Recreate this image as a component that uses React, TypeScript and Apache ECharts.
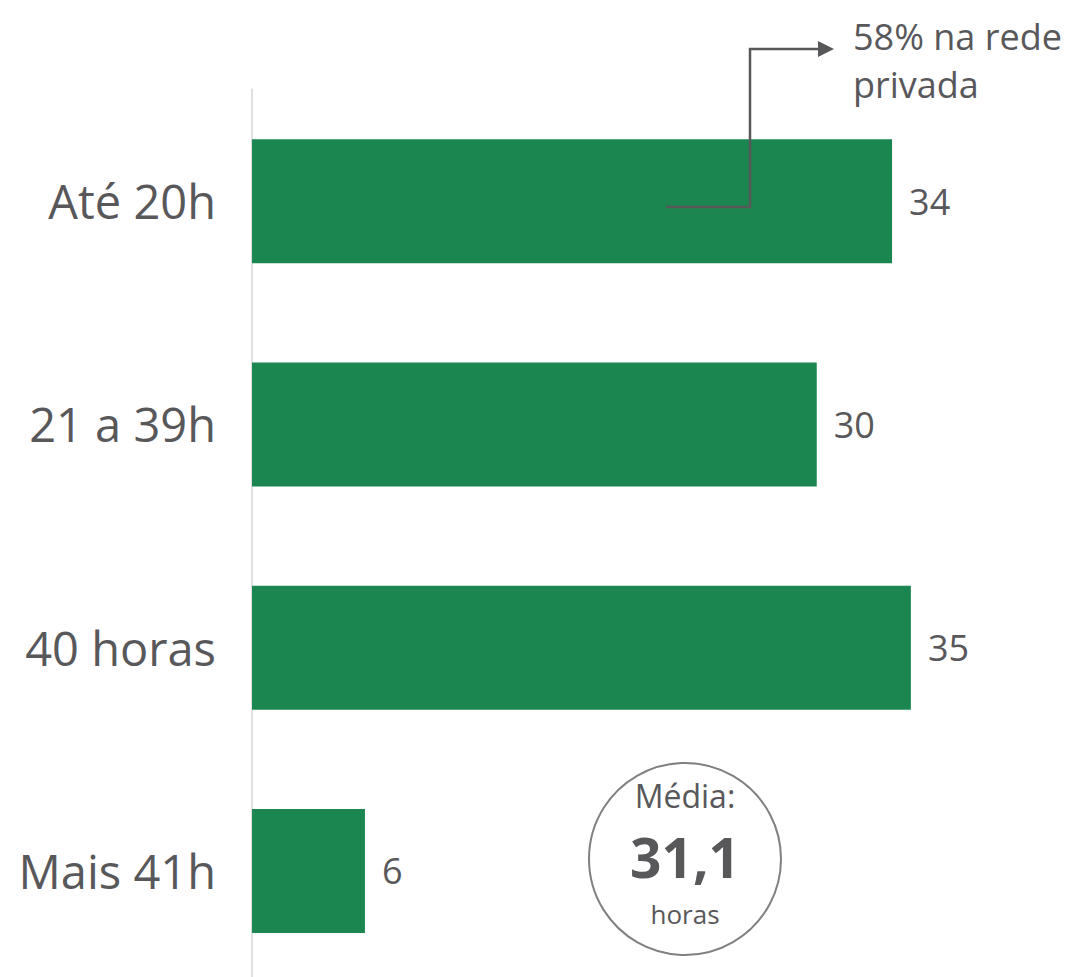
import React, { useEffect, useRef } from "react";
import * as echarts from "echarts";

const categories = ["Até 20h", "21 a 39h", "40 horas", "Mais 41h"];
const values = [34, 30, 35, 6];
const annotationText = "58% na rede\nprivada";
const averageTitle = "Média:";
const averageValue = "31,1";
const averageUnit = "horas";

const FONT = "'Open Sans', sans-serif";
const TEXT = "#58585b";

export default function App() {
  const ref = useRef<HTMLDivElement>(null);
  useEffect(() => {
    document.body.style.margin = "0";
    const chart = echarts.init(ref.current!, null, { renderer: "svg" });
    chart.setOption({
      animation: false,
      backgroundColor: "#ffffff",
      grid: { left: 252, top: 89.5, width: 753, height: 893 },
      xAxis: { type: "value", min: 0, max: 40, show: false },
      yAxis: {
        type: "category",
        data: categories,
        inverse: true,
        axisLine: { show: true, lineStyle: { color: "#e0e0e0", width: 2 } },
        axisTick: { show: false },
        axisLabel: { fontSize: 47, color: TEXT, margin: 36, fontFamily: FONT },
      },
      series: [
        {
          type: "bar",
          data: values,
          barWidth: 124,
          itemStyle: { color: "#1b8650" },
          label: {
            show: true,
            position: "right",
            distance: 17,
            fontSize: 36,
            color: TEXT,
            fontFamily: FONT,
          },
        },
      ],
      graphic: [
        {
          type: "polyline",
          z: 100,
          shape: { points: [[666, 207], [750, 207], [750, 49], [820, 49]] },
          style: { stroke: "#58585b", lineWidth: 2.5, fill: "none" },
        },
        {
          type: "polygon",
          z: 100,
          shape: { points: [[818, 41], [834, 49], [818, 57]] },
          style: { fill: "#58585b" },
        },
        {
          type: "text",
          z: 100,
          x: 853,
          y: 12,
          style: {
            text: annotationText,
            fontSize: 36,
            lineHeight: 48,
            fill: TEXT,
            fontFamily: FONT,
          },
        },
        {
          type: "circle",
          z: 100,
          shape: { cx: 685, cy: 859, r: 96 },
          style: { fill: "#ffffff", stroke: "#808080", lineWidth: 2 },
        },
        {
          type: "text",
          z: 101,
          x: 685,
          y: 811,
          style: {
            text: averageTitle,
            fontSize: 32,
            fill: TEXT,
            fontFamily: FONT,
            align: "center",
            verticalAlign: "bottom",
          },
        },
        {
          type: "text",
          z: 101,
          x: 685,
          y: 884,
          style: {
            text: averageValue,
            fontSize: 55,
            fontWeight: "bold",
            fill: TEXT,
            fontFamily: FONT,
            align: "center",
            verticalAlign: "bottom",
          },
        },
        {
          type: "text",
          z: 101,
          x: 685,
          y: 927,
          style: {
            text: averageUnit,
            fontSize: 26,
            fill: TEXT,
            fontFamily: FONT,
            align: "center",
            verticalAlign: "bottom",
          },
        },
      ],
    });
    return () => chart.dispose();
  }, []);
  return (
    <div
      ref={ref}
      style={{ position: "fixed", left: 0, top: 0, width: 1073, height: 1000 }}
    />
  );
}
